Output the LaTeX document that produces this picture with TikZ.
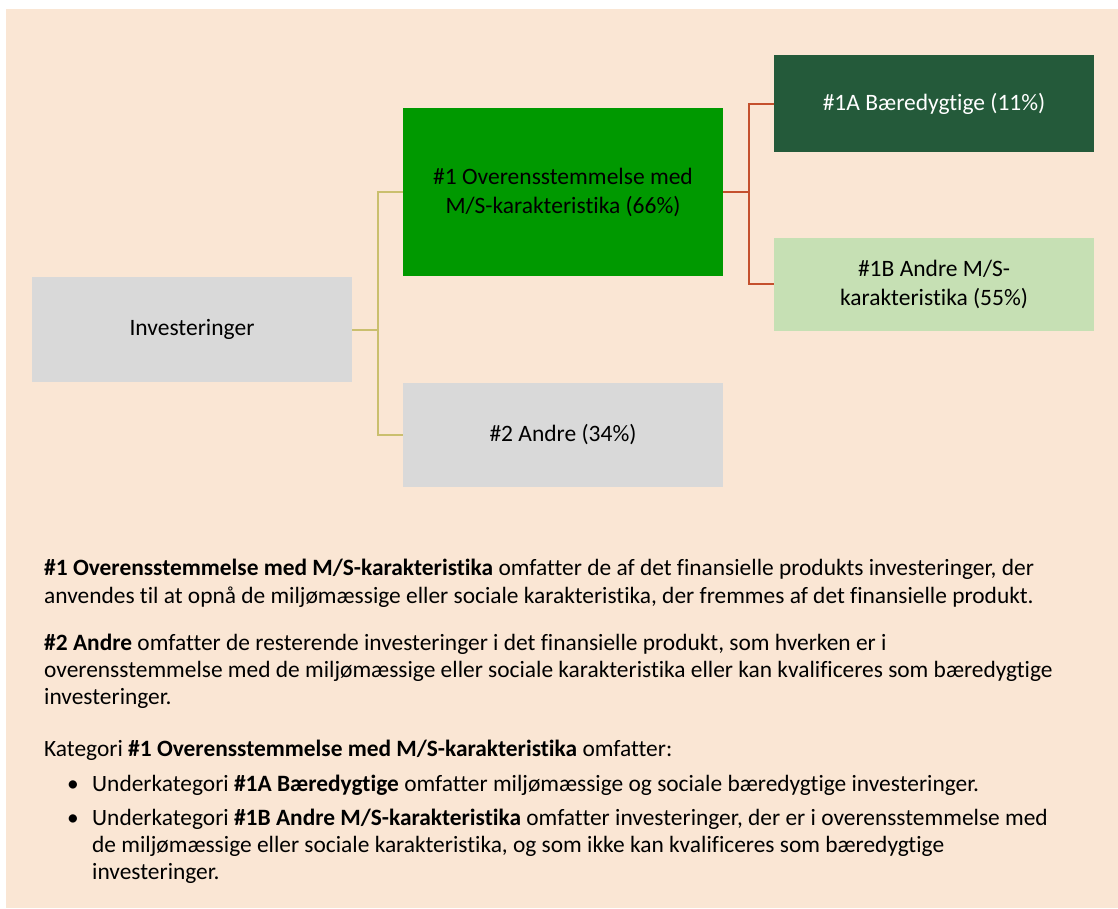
\documentclass[tikz,border=0pt]{standalone}
\usepackage{fontspec}
\setmainfont{Carlito}[RawFeature=-liga]
\usetikzlibrary{positioning}
\definecolor{bgbeige}{HTML}{FAE6D4}
\definecolor{boxgrey}{HTML}{D9D9D9}
\definecolor{mainGreen}{HTML}{009900}
\definecolor{darkGreen}{HTML}{245A3A}
\definecolor{lightGreen}{HTML}{C6E0B4}
\definecolor{khaki}{HTML}{CABF6E}
\definecolor{rust}{HTML}{C4502D}
\tikzset{
  box/.style={minimum width=320pt, inner sep=0pt, align=center,
    font=\fontsize{23.5}{29}\selectfont},
  txt/.style={anchor=base west, inner sep=0pt, font=\fontsize{23.4}{27}\selectfont},
}

\begin{document}
\begin{tikzpicture}[x=1pt,y=-1pt]
    \useasboundingbox (0,0) rectangle (1118,908);
    \fill[bgbeige] (6,9) rectangle (1118,908);
    % boxes of the tree
    \node[box,fill=boxgrey,minimum height=105pt] (inv) at (192,329.5) {Investeringer};
    \node[box,fill=mainGreen,minimum height=168pt] (one) at (563,192)
      {\#1 Overensstemmelse med\\M/S-karakteristika (66\%)};
    \node[box,fill=boxgrey,minimum height=104pt] (two) at (563,435) {\#2 Andre (34\%)};
    \node[box,fill=darkGreen,text=white,minimum height=97pt] (oneA) at (934,103.5)
      {\#1A Bæredygtige (11\%)};
    \node[box,fill=lightGreen,minimum height=93pt] (oneB) at (934,284)
      {\#1B Andre M/S-\\karakteristika (55\%)};
    % connectors
    \draw[khaki,line width=2pt] (inv.east) -- ++(26,0) coordinate (jl);
    \draw[khaki,line width=2pt] (jl) |- (one.west);
    \draw[khaki,line width=2pt] (jl) |- (two.west);
    \draw[rust,line width=2pt] (one.east) -- ++(26,0) coordinate (jr);
    \draw[rust,line width=2pt] (jr) |- (oneA.west);
    \draw[rust,line width=2pt] (jr) |- (oneB.west);
    % explanation below
    \node[txt] (p1a) at (44,575) {\textbf{\#1 Overensstemmelse med M/S-karakteristika} omfatter de af det finansielle produkts investeringer, der};
    \node[txt] (p1b) at (44,603) {anvendes til at opnå de miljømæssige eller sociale karakteristika, der fremmes af det finansielle produkt.};
    \node[txt] (p2a) at (44,650) {\textbf{\#2 Andre} omfatter de resterende investeringer i det finansielle produkt, som hverken er i};
    \node[txt] (p2b) at (44,677) {overensstemmelse med de miljømæssige eller sociale karakteristika eller kan kvalificeres som bæredygtige};
    \node[txt] (p2c) at (44,704) {investeringer.};
    \node[txt] (kat) at (44,756) {Kategori \textbf{\#1 Overensstemmelse med M/S-karakteristika} omfatter:};
    \node[txt] (dotA) at (67,791) {\textbullet};
    \node[txt] (b1) at (92,791) {Underkategori \textbf{\#1A Bæredygtige} omfatter miljømæssige og sociale bæredygtige investeringer.};
    \node[txt] (dotB) at (67,825) {\textbullet};
    \node[txt] (b2a) at (92,825) {Underkategori \textbf{\#1B Andre M/S-karakteristika} omfatter investeringer, der er i overensstemmelse med};
    \node[txt] (b2b) at (92,852) {de miljømæssige eller sociale karakteristika, og som ikke kan kvalificeres som bæredygtige};
    \node[txt] (b2c) at (92,879) {investeringer.};
\end{tikzpicture}
\end{document}
